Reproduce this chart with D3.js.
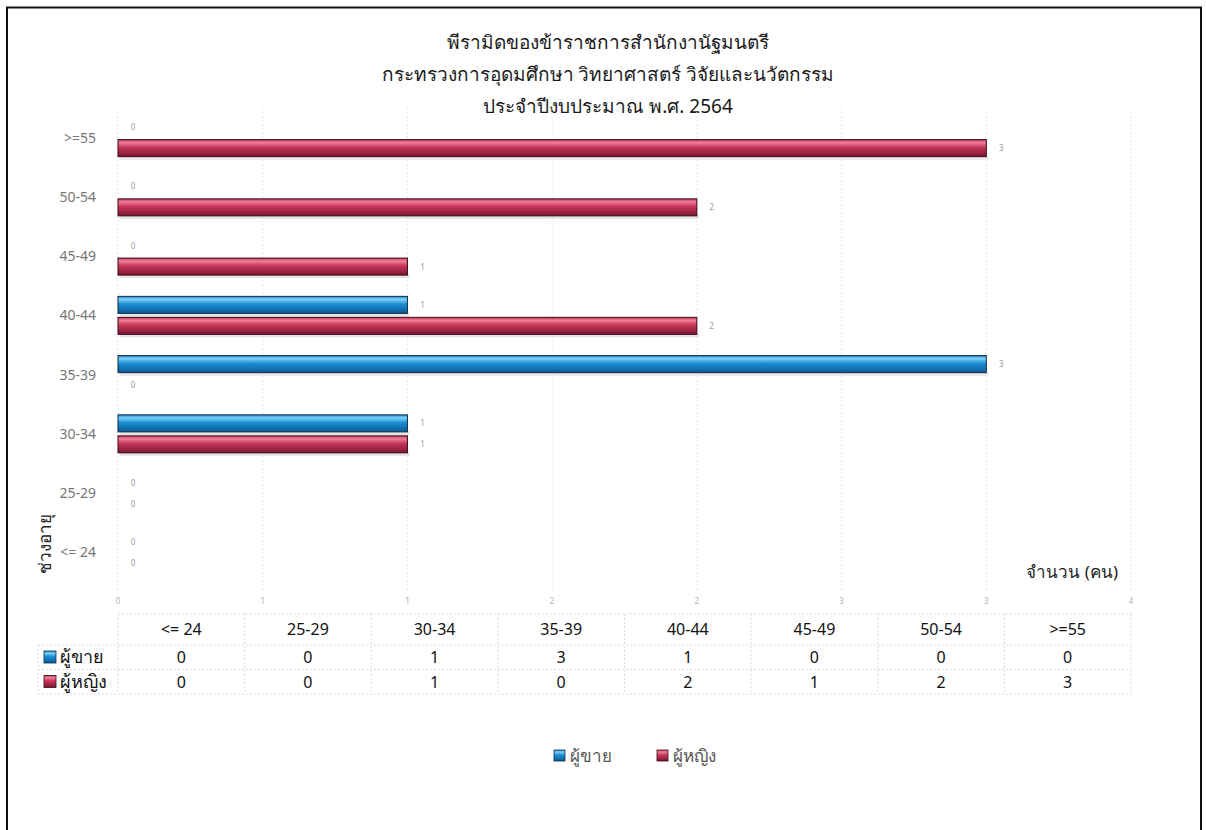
<!DOCTYPE html>
<html>
<head>
<meta charset="utf-8">
<script src="https://cdn.jsdelivr.net/npm/d3@7"></script>
<style>
  html, body { margin: 0; padding: 0; background: #fff; }
  svg { display: block; font-family: "Noto Sans", "Open Sans", sans-serif; }
</style>
</head>
<body>
<svg id="chart" width="1206" height="830"></svg>
<script>
// ---- data ----
const titleLines = [
  "พีรามิดของข้าราชการสำนักงานัฐมนตรี",
  "กระทรวงการอุดมศึกษา วิทยาศาสตร์ วิจัยและนวัตกรรม",
  "ประจำปีงบประมาณ พ.ศ. 2564"
];
const categories = ["<= 24", "25-29", "30-34", "35-39", "40-44", "45-49", "50-54", ">=55"];
const seriesNames = ["ผู้ขาย", "ผู้หญิง"];
const maleValues = [0, 0, 1, 3, 1, 0, 0, 0];
const femaleValues = [0, 0, 1, 0, 2, 1, 2, 3];
const xTickValues = [0, 0.5, 1, 1.5, 2, 2.5, 3, 3.5];
const xTickLabels = ["0", "1", "1", "2", "2", "3", "3", "4"];
const xAxisTitle = "จำนวน (คน)";
const yAxisTitle = "ช่วงอายุ";

const seriesValues = [maleValues, femaleValues];
const seriesColors = [
  { top: "#7fd0f6", mid: "#1c8fd6", bot: "#0b5a92", stroke: "#0d2a44" },
  { top: "#ee7f98", mid: "#c8375a", bot: "#7c1530", stroke: "#3a0a16" }
];

const svg = d3.select("#chart");
const defs = svg.append("defs");
seriesColors.forEach((c, i) => {
  const g = defs.append("linearGradient").attr("id", "grad" + i)
    .attr("x1", 0).attr("y1", 0).attr("x2", 0).attr("y2", 1);
  g.append("stop").attr("offset", "0%").attr("stop-color", c.mid);
  g.append("stop").attr("offset", "18%").attr("stop-color", c.top);
  g.append("stop").attr("offset", "45%").attr("stop-color", c.mid);
  g.append("stop").attr("offset", "100%").attr("stop-color", c.bot);
});

// frame
svg.append("rect").attr("x", 7).attr("y", 7.5).attr("width", 1194).attr("height", 840)
  .attr("fill", "none").attr("stroke", "#111").attr("stroke-width", 2);

// title
svg.append("g").selectAll("text").data(titleLines).join("text")
  .attr("x", 608).attr("y", (d, i) => 49 + i * 32)
  .attr("text-anchor", "middle").attr("font-size", 19).attr("font-weight", 400).attr("fill", "#1a1a1a")
  .text(d => d);

// scales
const x = d3.scaleLinear().domain([0, 3.5]).range([118, 1131]);
const yCats = categories.slice().reverse();
const y0 = d3.scaleBand().domain(yCats).range([108, 582]);
const y1 = d3.scaleBand().domain(seriesNames).range([10.6, 48.6]).paddingInner(0.19);

// gridlines
svg.append("g").selectAll("line").data(xTickValues).join("line")
  .attr("x1", d => x(d)).attr("x2", d => x(d))
  .attr("y1", 108).attr("y2", 590)
  .attr("stroke", "#e6e6e6").attr("stroke-width", 1).attr("stroke-dasharray", "2,2");

// x tick labels
svg.append("g").selectAll("text").data(xTickValues).join("text")
  .attr("x", d => x(d)).attr("y", 604)
  .attr("text-anchor", "middle").attr("font-size", 8).attr("fill", "#b0b0b0")
  .text((d, i) => xTickLabels[i]);

// y category labels
svg.append("g").selectAll("text").data(yCats).join("text")
  .attr("x", 96).attr("y", d => y0(d) + y0.bandwidth() / 2 + 5)
  .attr("text-anchor", "end").attr("font-size", 14).attr("fill", "#777")
  .text(d => d);

// bars
const barData = [];
categories.forEach((c, ci) => {
  seriesNames.forEach((s, si) => {
    barData.push({ cat: c, s, si, v: seriesValues[si][ci] });
  });
});
const gBars = svg.append("g");
const nonZero = barData.filter(d => d.v > 0);
gBars.selectAll("rect.shadow").data(nonZero).join("rect").attr("class", "shadow")
  .attr("x", x(0) + 2).attr("y", d => y0(d.cat) + y1(d.s) + y1.bandwidth() - 1)
  .attr("width", d => x(d.v) - x(0)).attr("height", 4)
  .attr("fill", "#d8d8d8").attr("opacity", 0.7);
gBars.selectAll("rect.bar").data(nonZero).join("rect").attr("class", "bar")
  .attr("x", x(0)).attr("y", d => y0(d.cat) + y1(d.s))
  .attr("width", d => x(d.v) - x(0)).attr("height", y1.bandwidth())
  .attr("fill", d => `url(#grad${d.si})`)
  .attr("stroke", d => seriesColors[d.si].stroke).attr("stroke-width", 1);

// data labels
gBars.selectAll("text").data(barData).join("text")
  .attr("x", d => x(d.v) + 15).attr("y", d => y0(d.cat) + y1(d.s) + y1.bandwidth() / 2 + 3)
  .attr("text-anchor", "middle").attr("font-size", 8).attr("fill", "#999")
  .text(d => d.v);

// axis titles
svg.append("text").attr("x", 1118).attr("y", 578).attr("text-anchor", "end")
  .attr("font-size", 17).attr("fill", "#222").text(xAxisTitle);
svg.append("text").attr("transform", "translate(51,544) rotate(-90)")
  .attr("text-anchor", "middle").attr("font-size", 17).attr("fill", "#222").text(yAxisTitle);

// data table
const colW = (x(3.5) - x(0)) / categories.length;
const tableTop = 614, rowH = 24.5;
const tg = svg.append("g");
const hLines = [tableTop, tableTop + 31, tableTop + 31 + rowH, tableTop + 31 + 2 * rowH];
tg.selectAll("line.h").data(hLines).join("line").attr("class", "h")
  .attr("x1", (d, i) => i === 0 ? x(0) : 38).attr("x2", x(3.5))
  .attr("y1", d => d).attr("y2", d => d)
  .attr("stroke", "#ddd").attr("stroke-dasharray", "2,2");
const vCols = d3.range(categories.length + 1);
tg.selectAll("line.v").data(vCols).join("line").attr("class", "v")
  .attr("x1", i => x(0) + i * colW).attr("x2", i => x(0) + i * colW)
  .attr("y1", tableTop).attr("y2", hLines[3])
  .attr("stroke", "#ddd").attr("stroke-dasharray", "2,2");
tg.append("line").attr("x1", 38).attr("x2", 38).attr("y1", hLines[1]).attr("y2", hLines[3])
  .attr("stroke", "#ddd").attr("stroke-dasharray", "2,2");
tg.selectAll("text.hd").data(categories).join("text").attr("class", "hd")
  .attr("x", (d, i) => x(0) + (i + 0.5) * colW).attr("y", tableTop + 21)
  .attr("text-anchor", "middle").attr("font-size", 16).attr("fill", "#111").text(d => d);
seriesNames.forEach((s, si) => {
  const ry = hLines[1] + si * rowH;
  tg.append("rect").attr("x", 44).attr("y", ry + 6).attr("width", 12).attr("height", 12)
    .attr("fill", `url(#grad${si})`).attr("stroke", seriesColors[si].stroke).attr("stroke-width", 0.8);
  tg.append("text").attr("x", 60).attr("y", ry + 18).attr("font-size", 18).attr("fill", "#111").text(s);
  tg.selectAll("text.v" + si).data(seriesValues[si]).join("text").attr("class", "v" + si)
    .attr("x", (d, i) => x(0) + (i + 0.5) * colW).attr("y", ry + 18)
    .attr("text-anchor", "middle").attr("font-size", 16).attr("fill", "#111").text(d => d);
});

// legend
const legendItems = [{ x: 554, si: 0 }, { x: 657, si: 1 }];
const lg = svg.append("g");
lg.selectAll("rect").data(legendItems).join("rect")
  .attr("x", d => d.x).attr("y", 750).attr("width", 11).attr("height", 11)
  .attr("fill", d => `url(#grad${d.si})`).attr("stroke", d => seriesColors[d.si].stroke).attr("stroke-width", 0.8);
lg.selectAll("text").data(legendItems).join("text")
  .attr("x", d => d.x + 16).attr("y", 762).attr("font-size", 17).attr("fill", "#555")
  .text(d => seriesNames[d.si]);
</script>
</body>
</html>
